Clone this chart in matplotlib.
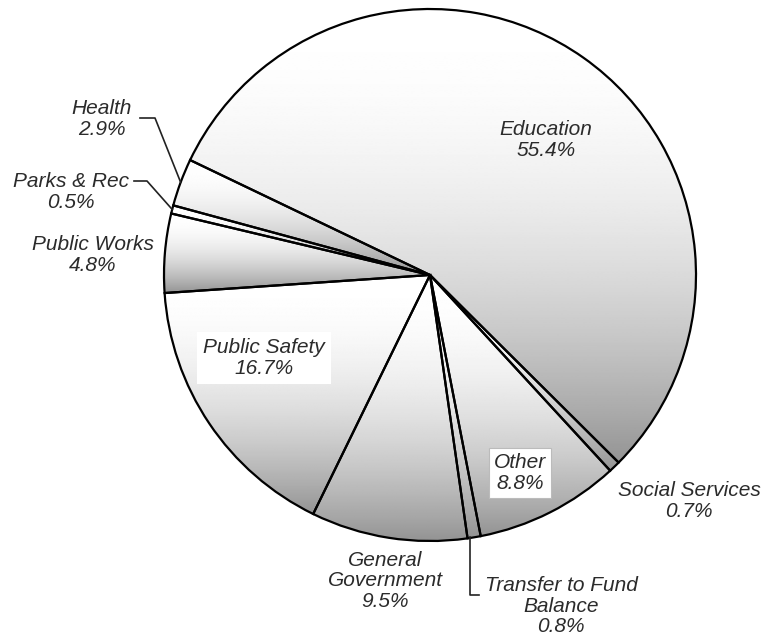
import numpy as np
import matplotlib
matplotlib.use("Agg")
import matplotlib.pyplot as plt

# general fund expenditures by function, clockwise from Education
categories = ["Education", "Social Services", "Other", "Transfer to Fund\nBalance",
              "General\nGovernment", "Public Safety", "Public Works", "Parks & Rec", "Health"]
shares = [55.4, 0.7, 8.8, 0.8, 9.5, 16.7, 4.8, 0.5, 2.9]

W, H = 763, 642
cx, cy, r = 430, H - 275, 266

plt.rcParams["font.family"] = ["Liberation Sans", "DejaVu Sans"]
fig = plt.figure(figsize=(W / 100, H / 100), dpi=100)
ax = fig.add_axes([0, 0, 1, 1])

wedges, _ = ax.pie(shares, startangle=154.4, counterclock=False, center=(cx, cy), radius=r,
                   wedgeprops=dict(facecolor="none", edgecolor="black", linewidth=1.6, zorder=3))

# vertical white-to-gray shading inside each slice
for w in wedges:
    a0, a1 = np.radians(w.theta1), np.radians(w.theta2)
    t = np.linspace(a0, a1, 200)
    ys = np.concatenate([[cy], cy + r * np.sin(t)])
    xs = np.concatenate([[cx], cx + r * np.cos(t)])
    g = np.linspace(0, 1, 256)[:, None]
    shade = 1.0 - 0.42 * g ** 2.0
    img = ax.imshow(shade, cmap="gray", vmin=0, vmax=1, aspect="auto",
                    extent=(xs.min(), xs.max(), ys.min(), ys.max()), origin="upper",
                    interpolation="bilinear", zorder=1)
    img.set_clip_path(w)

ax.set_xlim(0, W)
ax.set_ylim(0, H)
ax.set_aspect("equal", adjustable="datalim")
ax.axis("off")

txt = dict(ha="center", va="center", fontsize=15, style="italic", color="#2b2b2b",
           linespacing=1.1, zorder=5)

# label centres (x, y from top)
label_pos = {
    "Education": (546, 140),
    "Social Services": (689, 501),
    "Other": (520, 473),
    "Transfer to Fund\nBalance": (561, 606),
    "General\nGovernment": (385, 581),
    "Public Safety": (264, 358),
    "Public Works": (93, 255),
    "Parks & Rec": (71, 192),
    "Health": (102, 119),
}
boxed = {
    "Public Safety": dict(boxstyle="square,pad=0.3", facecolor="white", edgecolor="none"),
    "Other": dict(boxstyle="square,pad=0.25", facecolor="white", edgecolor="#bbbbbb", linewidth=0.8),
}

for name, val in zip(categories, shares):
    x, y = label_pos[name]
    ax.text(x, H - y, f"{name}\n{val}%", bbox=boxed.get(name), **txt)

# leader lines for the thin slices
def edge_point(i):
    w = wedges[i]
    a = np.radians((w.theta1 + w.theta2) / 2)
    return cx + r * np.cos(a), cy + r * np.sin(a)

line = dict(color="#222222", lw=1.2, zorder=4)
hx, hy = edge_point(categories.index("Health"))
ax.plot([140, 155, hx], [H - 118, H - 118, hy], **line)
px, py = edge_point(categories.index("Parks & Rec"))
ax.plot([134, 147, px], [H - 181, H - 181, py], **line)
tx, ty = edge_point(categories.index("Transfer to Fund\nBalance"))
ax.plot([tx - 4, tx - 4, tx + 5], [ty, H - 595, H - 595], **line)

fig.savefig("out.png", dpi=100)
